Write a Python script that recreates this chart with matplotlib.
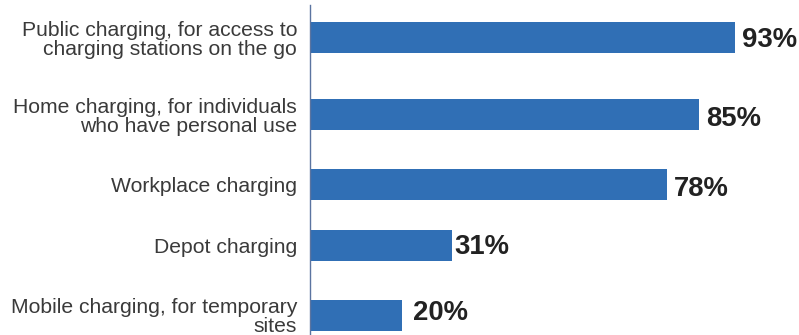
import matplotlib
matplotlib.use("Agg")
import matplotlib.pyplot as plt

# Share of respondents by charging type
categories = [
    "Public charging, for access to\ncharging stations on the go",
    "Home charging, for individuals\nwho have personal use",
    "Workplace charging",
    "Depot charging",
    "Mobile charging, for temporary\nsites",
]
values = [93, 85, 78, 31, 20]
value_labels = ["93%", "85%", "78%", "31%", "20%"]

# Layout: row positions (top to bottom) and per-label nudges in points
row_pos = [0.0, 1.108, 2.115, 2.993, 4.0]
label_dx = [4.8, 5.5, 5.3, 2.0, 7.9]
label_dy = [0.7, -1.1, -1.1, 1.1, 3.6]

bar_color = "#306FB5"
text_color = "#3a3a3a"
font = "Liberation Sans"

fig = plt.figure(figsize=(7.99, 3.35), dpi=100)
ax = fig.add_axes([0.3886, 0.0, 0.6114, 0.985])

ax.barh(row_pos, values, height=0.446, color=bar_color, zorder=2)

for y, v, lab, dx, dy in zip(row_pos, values, value_labels, label_dx, label_dy):
    ax.annotate(lab, xy=(v, y), xytext=(dx, dy), textcoords="offset points",
                ha="left", va="center_baseline", fontsize=19.8,
                fontweight="bold", family=font, color="#222222")

ax.set_xlim(0, 107)
ax.set_ylim(4.281, -0.468)
ax.set_yticks(row_pos)
ax.set_yticklabels(categories, fontsize=15.2, family=font, color=text_color,
                   linespacing=1.0)
ax.tick_params(axis="y", length=0, pad=9.7)
ax.set_xticks([])

for side in ("top", "right", "bottom"):
    ax.spines[side].set_visible(False)
ax.spines["left"].set_color("#5B74A0")
ax.spines["left"].set_linewidth(1.0)

fig.savefig("out.png", dpi=100)
